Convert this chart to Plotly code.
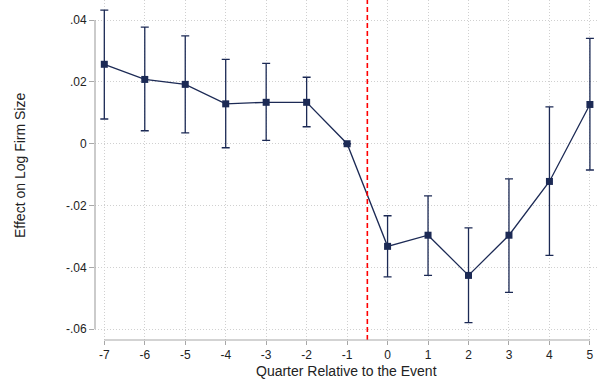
import plotly.graph_objects as go

# Event-study estimates by quarter relative to the event
quarters = [-7, -6, -5, -4, -3, -2, -1, 0, 1, 2, 3, 4, 5]
coef = [0.0257, 0.0208, 0.0192, 0.0129, 0.0134, 0.0134, 0.0, -0.0332, -0.0296, -0.0426, -0.0296, -0.0122, 0.0127]
ci_upper = [0.0432, 0.0377, 0.0349, 0.0273, 0.0260, 0.0215, 0.0, -0.0233, -0.0169, -0.0272, -0.0114, 0.0119, 0.0341]
ci_lower = [0.0080, 0.0042, 0.0035, -0.0013, 0.0011, 0.0055, 0.0, -0.0431, -0.0426, -0.0579, -0.0481, -0.0361, -0.0085]

y_ticks = [0.04, 0.02, 0.0, -0.02, -0.04, -0.06]
y_tick_labels = [".04", ".02", "0", "-.02", "-.04", "-.06"]
event_line_x = -0.5

navy = "#1c2a55"
axis_gray = "#a8a8a8"
grid_gray = "#d0d0d0"
font_family = "Liberation Sans, Arial, sans-serif"

err_plus = [u - c for u, c in zip(ci_upper, coef)]
err_minus = [c - l for c, l in zip(coef, ci_lower)]

fig = go.Figure()
fig.add_trace(go.Scatter(
    x=quarters, y=coef,
    mode="lines+markers",
    line=dict(color=navy, width=1.3),
    marker=dict(symbol="square", size=7, color=navy),
    error_y=dict(type="data", symmetric=False, array=err_plus, arrayminus=err_minus,
                 color=navy, thickness=1.3, width=4),
    showlegend=False,
))

# vertical dashed marker at the event
fig.add_shape(type="line", xref="x", yref="paper", x0=event_line_x, x1=event_line_x,
              y0=0, y1=1, line=dict(color="#ff0000", width=1.6, dash="5px,3px"))

# axis lines spanning only the tick range
fig.add_shape(type="line", xref="x", yref="paper", x0=min(quarters), x1=max(quarters),
              y0=0, y1=0, line=dict(color=axis_gray, width=1.2))
fig.add_shape(type="line", xref="paper", yref="y", x0=0, x1=0,
              y0=min(y_ticks), y1=max(y_ticks), line=dict(color=axis_gray, width=1.2))

fig.update_xaxes(
    range=[-7.23, 5.2], tickmode="array", tickvals=quarters,
    ticktext=[str(q) for q in quarters],
    showline=False, zeroline=False,
    showgrid=True, gridcolor=grid_gray, griddash="1px,2px", gridwidth=1,
    ticks="outside", ticklen=4, tickcolor=axis_gray, tickwidth=1,
    tickfont=dict(family=font_family, size=12, color="#222222"),
)
fig.update_yaxes(
    range=[-0.0635, 0.0465], tickmode="array", tickvals=y_ticks, ticktext=y_tick_labels,
    showline=False, zeroline=False,
    showgrid=True, gridcolor=grid_gray, griddash="1px,2px", gridwidth=1,
    ticks="outside", ticklen=5, tickcolor=axis_gray, tickwidth=1,
    tickfont=dict(family=font_family, size=12, color="#222222"),
)

fig.add_annotation(text="Effect on Log Firm Size", xref="paper", yref="paper",
                   x=-75 / 503, y=(340 - 166) / 340, xanchor="center", yanchor="middle",
                   textangle=-90, showarrow=False,
                   font=dict(family=font_family, size=14, color="#222222"))
fig.add_annotation(text="Quarter Relative to the Event", xref="paper", yref="paper",
                   x=0.5, y=-31 / 340, xanchor="center", yanchor="middle",
                   showarrow=False,
                   font=dict(family=font_family, size=14, color="#222222"))

fig.update_layout(
    width=605, height=381,
    margin=dict(l=95, r=7, t=0, b=41),
    paper_bgcolor="white", plot_bgcolor="white",
)

fig.write_html("out.html")
